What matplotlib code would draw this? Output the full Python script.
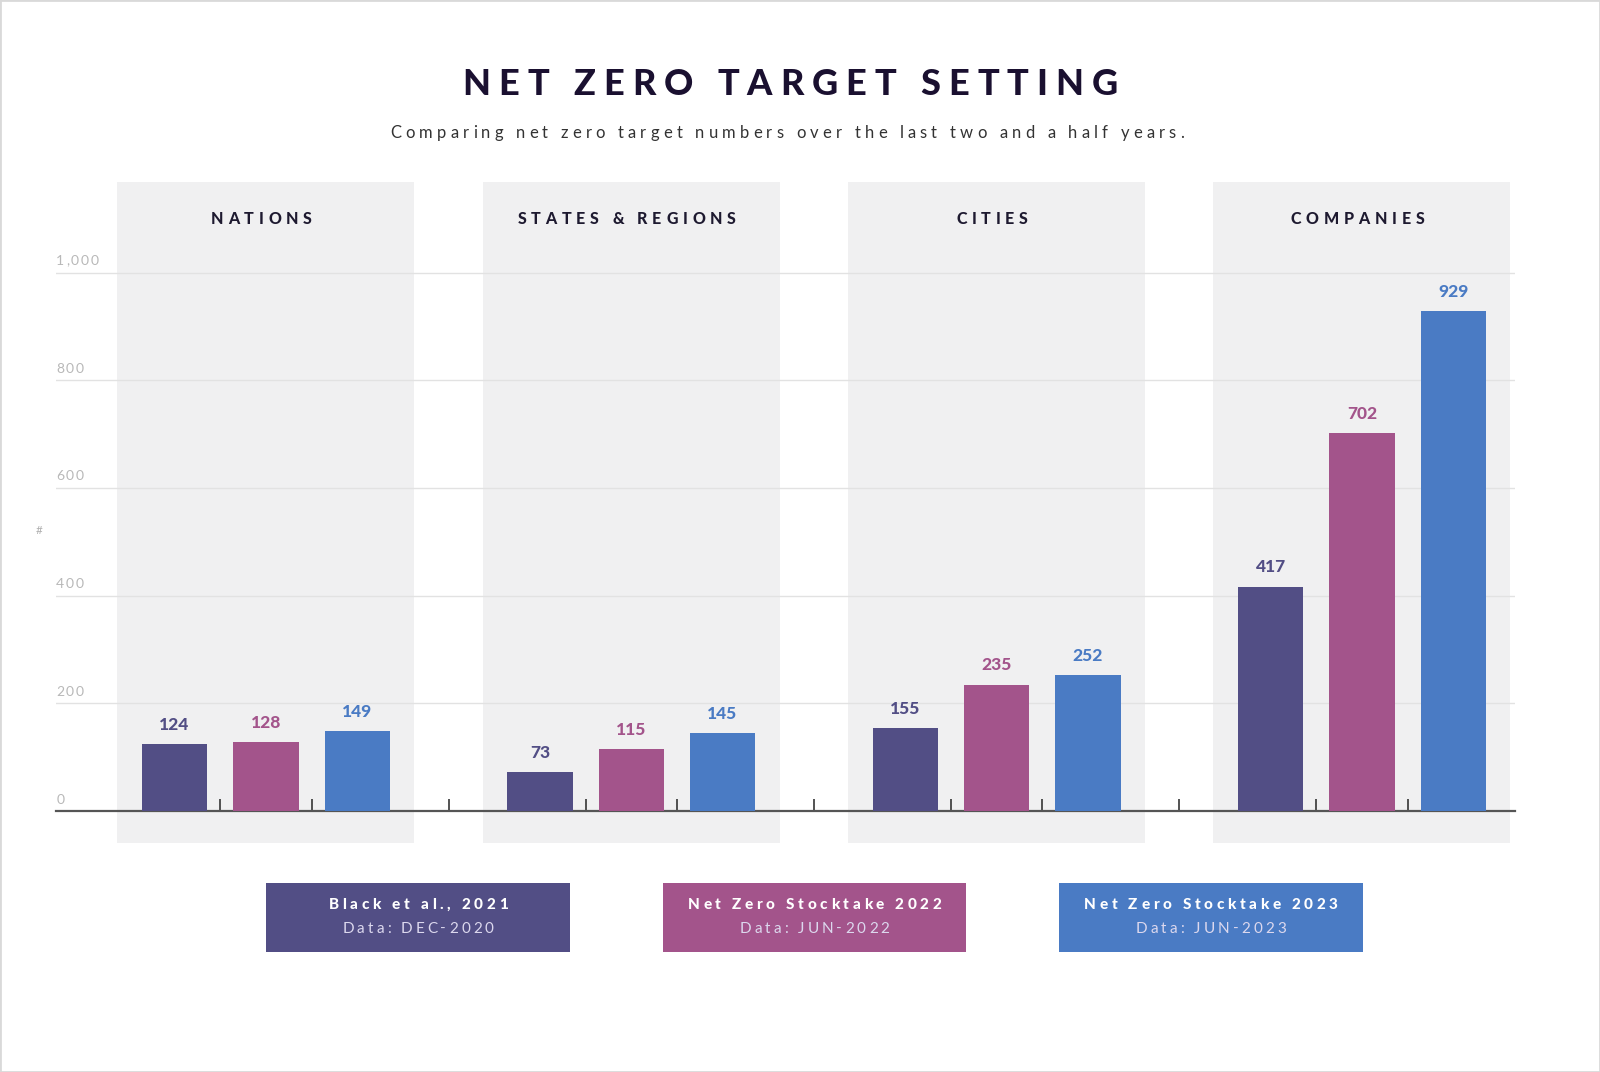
import matplotlib
matplotlib.use("Agg")
import matplotlib.pyplot as plt
from matplotlib.font_manager import FontProperties
from matplotlib.textpath import TextPath
from matplotlib.transforms import offset_copy, blended_transform_factory
from matplotlib.patches import Rectangle

# data
categories = ["NATIONS", "STATES & REGIONS", "CITIES", "COMPANIES"]
black_2021 = [124, 73, 155, 417]
stocktake_2022 = [128, 115, 235, 702]
stocktake_2023 = [149, 145, 252, 929]
series = [black_2021, stocktake_2022, stocktake_2023]
series_names = ["Black et al., 2021", "Net Zero Stocktake 2022", "Net Zero Stocktake 2023"]
series_dates = ["Data: DEC-2020", "Data: JUN-2022", "Data: JUN-2023"]
colors = ["#524e85", "#a3548b", "#4a7bc4"]
y_ticks = [0, 200, 400, 600, 800, 1000]
y_tick_labels = ["0", "200", "400", "600", "800", "1,000"]

FONT = ["Lato", "DejaVu Sans"]

fig = plt.figure(figsize=(16, 10.72), dpi=100)
ax = fig.add_axes([0.0351, 0.2137, 0.912, 0.6169])


def tracked(x, y, s, size, track, transform, ha="center", va="center",
            weight="normal", color="black", dy=0):
    # draw text letter by letter to get the wide letter spacing
    fp = FontProperties(family=FONT, size=size, weight=weight)
    base = TextPath((0, 0), "XX", prop=fp).get_extents().width

    def adv(t):
        return TextPath((0, 0), "X" + t + "X", prop=fp).get_extents().width - base

    gap = track * size
    total = adv(s) + gap * (len(s) - 1)
    x0 = {"center": -total / 2, "left": 0, "right": -total}[ha]
    for i, ch in enumerate(s):
        if ch == " ":
            continue
        dx = x0 + adv(s[:i]) + gap * i
        tr = offset_copy(transform, fig=fig, x=dx, y=dy, units="points")
        fig.text(x, y, ch, transform=tr, ha="left", va=va,
                 fontproperties=fp, color=color)


n_groups = len(categories)
# panels behind each group
for g in range(n_groups):
    ax.axvspan(4 * g + 1 - 1.626, 4 * g + 1 + 1.626, color="#f0f0f1", lw=0, zorder=0)
    tracked(4 * g + 0.95, 1099, categories[g], 11.5, 0.3, ax.transData,
            weight="black", color="#1e1a30")

# bars
for i, vals in enumerate(series):
    xs = [4 * g + i for g in range(n_groups)]
    ax.bar(xs, vals, width=0.715, color=colors[i], zorder=3)
    for x, v in zip(xs, vals):
        ax.annotate(str(v), (x, v), xytext=(0, 8), textcoords="offset points",
                    ha="center", va="bottom", color=colors[i], fontsize=12.5,
                    fontweight="black", family=FONT, zorder=4)

ax.set_xlim(-1.296, 14.68)
ax.set_ylim(-59, 1169)

# gridlines
for v in y_ticks[1:]:
    ax.axhline(v, color="#e2e2e2", lw=1, zorder=1)

# y labels sit above the gridlines at the left edge
ytr = blended_transform_factory(ax.transAxes, ax.transData)
for v, lab in zip(y_ticks, y_tick_labels):
    tracked(0, v, lab, 10, 0.12, ytr, ha="left", va="bottom",
            color="#b8b8b8", dy=4)
fig.text(39 / 1600, 1 - 531 / 1072, "#", fontsize=8.5, color="#b0b0b0",
         ha="center", va="center", family=FONT)

# x ticks between bars and between groups
ticks = []
for g in range(n_groups):
    ticks += [4 * g + 0.5, 4 * g + 1.5]
    if g < n_groups - 1:
        ticks.append(4 * g + 3)
ax.set_xticks(ticks)
ax.tick_params(axis="x", direction="in", length=9, width=1.3, color="#444444",
               labelbottom=False)
ax.set_yticks([])
for side in ["top", "right", "left"]:
    ax.spines[side].set_visible(False)
ax.spines["bottom"].set_position(("data", 0))
ax.spines["bottom"].set_color("#555555")
ax.spines["bottom"].set_linewidth(1.6)
ax.patch.set_visible(False)

# title and subtitle
tracked(790 / 1600, 1 - 84 / 1072, "NET ZERO TARGET SETTING", 26, 0.22,
        fig.transFigure, weight="black", color="#1a1030")
tracked(787 / 1600, 1 - 133 / 1072,
        "Comparing net zero target numbers over the last two and a half years.",
        12, 0.25, fig.transFigure, color="#333333")

# legend boxes
box_w, box_h = 304 / 1600, 69 / 1072
for i in range(3):
    cx = (418 + 396.5 * i) / 1600
    fig.add_artist(Rectangle((cx - box_w / 2, 1 - 952 / 1072), box_w, box_h,
                             transform=fig.transFigure, color=colors[i], lw=0))
    tracked(cx, 1 - 905 / 1072, series_names[i], 11, 0.24, fig.transFigure,
            weight="black", color="white")
    tracked(cx, 1 - 929 / 1072, series_dates[i], 11, 0.2, fig.transFigure,
            color="#dcd8ee")

fig.add_artist(Rectangle((0, 0), 1, 1, transform=fig.transFigure, fill=False,
                         ec="#d9d9d9", lw=2))

fig.savefig("out.png", dpi=100)
